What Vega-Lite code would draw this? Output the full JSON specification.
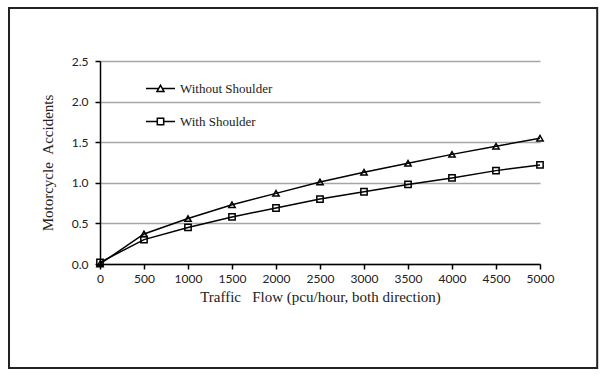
{
  "$schema": "https://vega.github.io/schema/vega-lite/v6.json",
  "width": 440,
  "height": 203,
  "autosize": "none",
  "padding": {"left": 100, "top": 61, "right": 60, "bottom": 113},
  "background": "white",
  "config": {
    "view": {"stroke": null},
    "axis": {
      "labelFont": "Lato",
      "labelFontSize": 12,
      "labelColor": "#222",
      "labelFlush": false,
      "titleFont": "Liberation Serif",
      "titleFontSize": 15,
      "titleFontWeight": "normal",
      "titleColor": "#222",
      "domainColor": "black",
      "domainWidth": 1.5,
      "tickColor": "black",
      "tickWidth": 1.5,
      "tickSize": 5,
      "gridColor": "#a6a6a6",
      "gridWidth": 1.5
    }
  },
  "datasets": {
    "acc": [
      {"flow": 0, "series": "Without Shoulder", "value": 0.0},
      {"flow": 500, "series": "Without Shoulder", "value": 0.37},
      {"flow": 1000, "series": "Without Shoulder", "value": 0.56},
      {"flow": 1500, "series": "Without Shoulder", "value": 0.73},
      {"flow": 2000, "series": "Without Shoulder", "value": 0.87},
      {"flow": 2500, "series": "Without Shoulder", "value": 1.01},
      {"flow": 3000, "series": "Without Shoulder", "value": 1.13},
      {"flow": 3500, "series": "Without Shoulder", "value": 1.24},
      {"flow": 4000, "series": "Without Shoulder", "value": 1.35},
      {"flow": 4500, "series": "Without Shoulder", "value": 1.45},
      {"flow": 5000, "series": "Without Shoulder", "value": 1.55},
      {"flow": 0, "series": "With Shoulder", "value": 0.02},
      {"flow": 500, "series": "With Shoulder", "value": 0.30},
      {"flow": 1000, "series": "With Shoulder", "value": 0.45},
      {"flow": 1500, "series": "With Shoulder", "value": 0.58},
      {"flow": 2000, "series": "With Shoulder", "value": 0.69},
      {"flow": 2500, "series": "With Shoulder", "value": 0.80},
      {"flow": 3000, "series": "With Shoulder", "value": 0.89},
      {"flow": 3500, "series": "With Shoulder", "value": 0.98},
      {"flow": 4000, "series": "With Shoulder", "value": 1.06},
      {"flow": 4500, "series": "With Shoulder", "value": 1.15},
      {"flow": 5000, "series": "With Shoulder", "value": 1.22}
    ]
  },
  "resolve": {"scale": {"shape": "independent"}, "legend": {"shape": "independent"}},
  "layer": [
    {
      "data": {"name": "acc"},
      "mark": {"type": "line", "color": "black", "strokeWidth": 1.5},
      "encoding": {
        "x": {
          "field": "flow", "type": "quantitative",
          "scale": {"domain": [0, 5000], "nice": false},
          "axis": {
            "values": [0, 500, 1000, 1500, 2000, 2500, 3000, 3500, 4000, 4500, 5000],
            "format": "d",
            "grid": false,
            "labelPadding": 4,
            "title": "Traffic \u00a0 Flow (pcu/hour, both direction)",
            "titlePadding": 5
          }
        },
        "y": {
          "field": "value", "type": "quantitative",
          "scale": {"domain": [0, 2.5], "nice": false},
          "axis": {
            "values": [0, 0.5, 1, 1.5, 2, 2.5],
            "format": ".1f",
            "grid": true,
            "labelPadding": 7,
            "title": "Motorcycle \u00a0Accidents",
            "titlePadding": 16
          }
        },
        "detail": {"field": "series"}
      }
    },
    {
      "data": {"name": "acc"},
      "mark": {"type": "point", "filled": false, "color": "black", "strokeWidth": 1.5, "size": 40, "opacity": 1},
      "encoding": {
        "x": {"field": "flow", "type": "quantitative"},
        "y": {"field": "value", "type": "quantitative"},
        "shape": {
          "field": "series", "type": "nominal",
          "scale": {"domain": ["Without Shoulder", "With Shoulder"], "range": ["triangle-up", "square"]},
          "legend": null
        }
      }
    },
    {
      "data": {"name": "acc"},
      "mark": {"type": "point", "filled": false, "color": "black", "strokeWidth": 1.5, "size": 841, "opacity": 0},
      "encoding": {
        "x": {"field": "flow", "type": "quantitative"},
        "y": {"field": "value", "type": "quantitative"},
        "shape": {
          "field": "series", "type": "nominal",
          "scale": {
            "domain": ["Without Shoulder", "With Shoulder"],
            "range": [
              "M-1,0L-0.13,0M0.13,0L1,0M-0.24,0.2L0,-0.22L0.24,0.2Z",
              "M-1,0L-0.22,0M0.22,0L1,0M-0.22,-0.22L0.22,-0.22L0.22,0.22L-0.22,0.22Z"
            ]
          },
          "legend": {
            "title": null,
            "orient": "none",
            "legendX": 45,
            "legendY": 12,
            "padding": 0,
            "rowPadding": 10,
            "labelFont": "Liberation Serif",
            "labelFontSize": 13,
            "labelColor": "#222",
            "labelOffset": 4,
            "symbolSize": 841,
            "symbolOpacity": 1,
            "symbolStrokeWidth": 1.5,
            "symbolStrokeColor": "black",
            "symbolFillColor": "transparent"
          }
        }
      }
    },
    {
      "data": {"values": [{}]},
      "mark": {"type": "rect", "fill": null, "stroke": "#222", "strokeWidth": 2, "clip": false},
      "encoding": {
        "x": {"datum": -1034, "type": "quantitative"},
        "x2": {"datum": 5650},
        "y": {"datum": 3.153, "type": "quantitative"},
        "y2": {"datum": -1.28}
      }
    }
  ]
}
